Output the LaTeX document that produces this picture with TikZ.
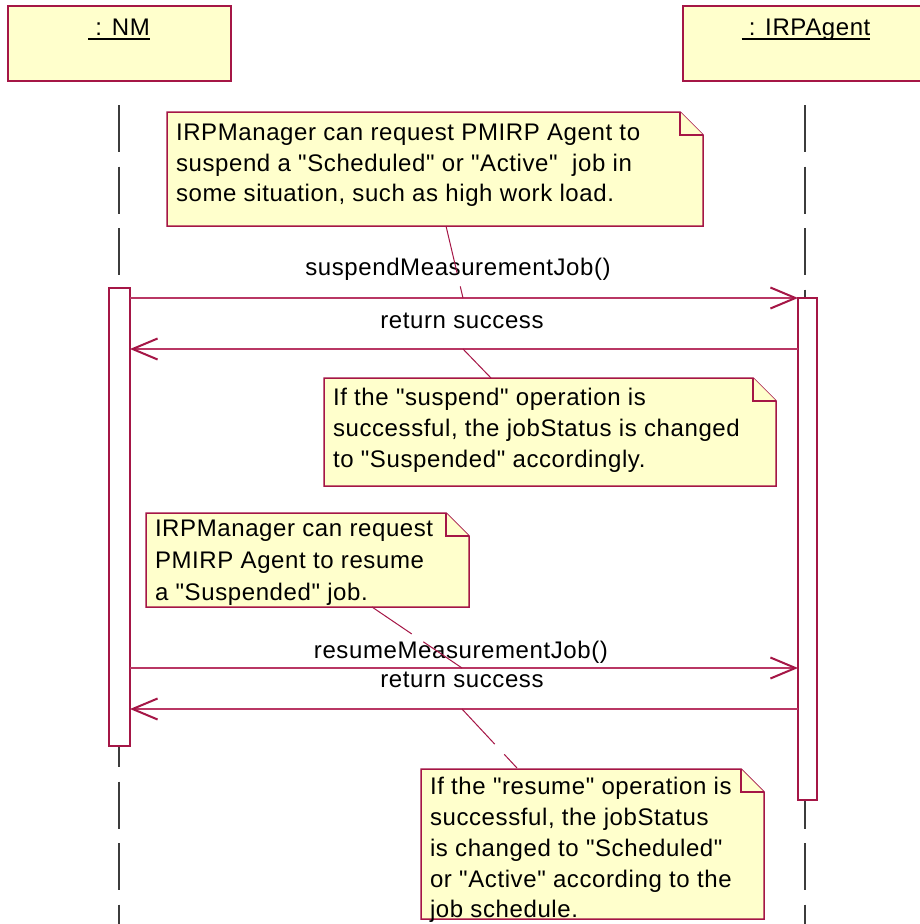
\documentclass[tikz,border=0pt]{standalone}
\usepackage{fontspec}
\setmainfont[LetterSpace=2.5, Ligatures=TeXOff]{Liberation Sans}
\usetikzlibrary{arrows.meta}
\definecolor{crim}{RGB}{165,22,70}
\definecolor{msgc}{RGB}{185,55,100}
\definecolor{notey}{RGB}{255,255,204}
\definecolor{lifec}{RGB}{60,60,60}
\newcommand\umlnoteshape[1]{%
  \filldraw[notepath] (#1.north west) -- ([xshift=-23pt]#1.north east)
    -- ([yshift=-23pt]#1.north east) -- (#1.south east) -- (#1.south west) -- cycle;
  \draw[notepath] ([xshift=-23pt]#1.north east) -- ([xshift=-23pt,yshift=-23pt]#1.north east)
    -- ([yshift=-23pt]#1.north east);}
\begin{document}
\begin{tikzpicture}[x=1pt,y=-1pt,
  every node/.style={font=\fontsize{24}{31}\selectfont, inner sep=0pt, outer sep=0pt},
  objbox/.style={draw=crim, fill=notey, line width=1.5pt, minimum height=75pt, anchor=north west},
  notearea/.style={draw=none, fill=none, anchor=north west},
  notepath/.style={draw=crim, fill=notey, line width=1.5pt, line join=miter},
  actbox/.style={draw=crim, fill=white, line width=1.4pt, anchor=north west},
  lifeline/.style={draw=lifec, line width=1.5pt, dash pattern=on 47pt off 14.5pt},
  msg/.style={draw=msgc, line width=1.4pt, -{Straight Barb[length=25pt,width=21pt,line width=2pt,color=crim]}},
  anchorline/.style={draw=crim, line width=1pt, dash pattern=on 48pt off 14pt},
  lbl/.style={anchor=base},
  ntext/.style={anchor=base west}]
\useasboundingbox[fill=white] (0,0) rectangle (920,924);

% objects
\node[objbox, minimum width=223pt] (nmbox) at (8,6) {};
\node[objbox, minimum width=245pt] (irpbox) at (683,6) {};
\node[lbl] (nmname) at (119,35) {\ : NM};
\node[lbl] (irpname) at (806,35) {\ : IRPAgent};
\draw[line width=2pt] ([yshift=-3.7pt]nmname.base west) -- ([yshift=-3.7pt]nmname.base east);
\draw[line width=2pt] ([yshift=-3.7pt]irpname.base west) -- ([yshift=-3.7pt]irpname.base east);

% lifelines
\coordinate (nmtop) at (119,105);
\coordinate (nmbot) at (119,924);
\coordinate (irptop) at (805,105);
\coordinate (irpbot) at (805,924);
\draw[lifeline] (nmtop) -- (nmbot);
\draw[lifeline] (irptop) -- (irpbot);

% activations
\node[actbox, minimum width=21pt, minimum height=458pt] (nmact) at (109,288) {};
\node[actbox, minimum width=19pt, minimum height=502pt] (irpact) at (798,298) {};

% message levels
\coordinate (y1) at (0,298);
\coordinate (y2) at (0,349);
\coordinate (y3) at (0,668);
\coordinate (y4) at (0,709);
\draw[msg] (nmact.east |- y1) -- (irpact.west |- y1);
\draw[msg] (irpact.west |- y2) -- (nmact.east |- y2);
\draw[msg] (nmact.east |- y3) -- (irpact.west |- y3);
\draw[msg] (irpact.west |- y4) -- (nmact.east |- y4);

\node[lbl] (l1) at (458,275) {suspendMeasurementJob()};
\node[lbl] (l2) at (462,328) {return success};
\node[lbl] (l3) at (461,658) {resumeMeasurementJob()};
\node[lbl] (l4) at (462,687) {return success};

% notes
\node[notearea, minimum width=536pt, minimum height=114pt] (note1) at (167,112) {};
\node[notearea, minimum width=452pt, minimum height=108pt] (note2) at (324,378) {};
\node[notearea, minimum width=323pt, minimum height=94pt] (note3) at (146,513) {};
\node[notearea, minimum width=343pt, minimum height=150pt] (note4) at (421,769) {};
\umlnoteshape{note1}
\umlnoteshape{note2}
\umlnoteshape{note3}
\umlnoteshape{note4}

% note anchors
\coordinate (a1n) at (446,226);
\coordinate (a1m) at (463,298);
\coordinate (a2n) at (491,378);
\coordinate (a2m) at (463,349);
\coordinate (a3n) at (372,607);
\coordinate (a3m) at (462,668);
\coordinate (a4n) at (517,768);
\coordinate (a4m) at (462,709);
\draw[anchorline] (a1n) -- (a1m);
\draw[anchorline] (a2m) -- (a2n);
\draw[anchorline] (a3n) -- (a3m);
\draw[anchorline] (a4m) -- (a4n);

% note texts
\node[ntext] (t1a) at (176,140) {IRPManager can request PMIRP Agent to};
\node[ntext] (t1b) at (176,171) {suspend a "Scheduled" or "Active"\ \ job in};
\node[ntext] (t1c) at (176,201) {some situation, such as high work load.};

\node[ntext] (t2a) at (333,405) {If the "suspend" operation is};
\node[ntext] (t2b) at (333,436) {successful, the jobStatus is changed};
\node[ntext] (t2c) at (333,467) {to "Suspended" accordingly.};

\node[ntext] (t3a) at (155,536) {IRPManager can request};
\node[ntext] (t3b) at (155,568) {PMIRP Agent to resume};
\node[ntext] (t3c) at (155,600) {a "Suspended" job.};

\node[ntext] (t4a) at (430,794) {If the "resume" operation is};
\node[ntext] (t4b) at (430,825) {successful, the jobStatus};
\node[ntext] (t4c) at (430,856) {is changed to "Scheduled"};
\node[ntext] (t4d) at (430,887) {or "Active" according to the};
\node[ntext] (t4e) at (430,917) {job schedule.};
\end{tikzpicture}
\end{document}
